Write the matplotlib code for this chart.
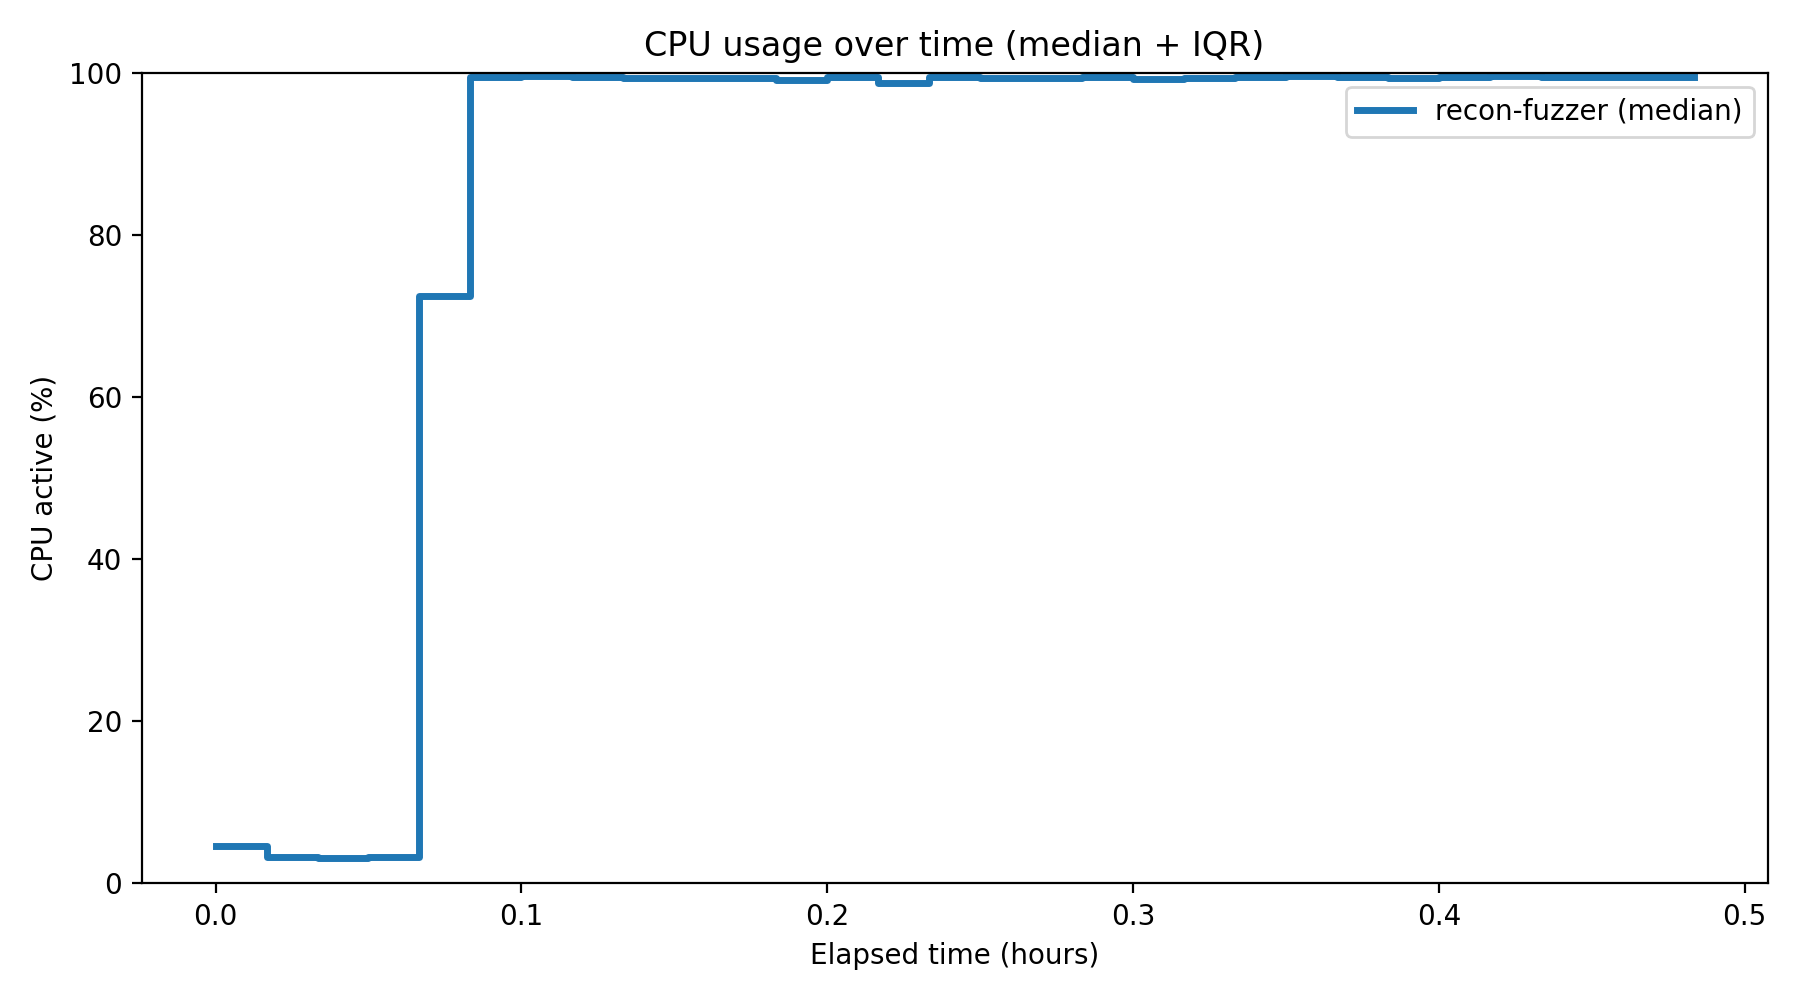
import matplotlib
matplotlib.use("Agg")
import matplotlib.pyplot as plt

# elapsed time in minutes, one sample per minute
minutes = list(range(30))

# median CPU active (%) per sample
cpu_median = [4.6, 3.2, 3.1, 3.2, 72.4,
              99.5, 99.65, 99.5, 99.4, 99.4,
              99.4, 99.15, 99.5, 98.75, 99.5,
              99.35, 99.35, 99.5, 99.25, 99.35,
              99.45, 99.6, 99.45, 99.3, 99.45,
              99.6, 99.5, 99.5, 99.5, 99.5]

hours = [m / 60.0 for m in minutes]

fig, ax = plt.subplots(figsize=(9, 5), dpi=200)
ax.step(hours, cpu_median, where='post', color='#1f77b4', linewidth=2.5,
        label='recon-fuzzer (median)')
ax.set_ylim(0, 100)
ax.set_title('CPU usage over time (median + IQR)')
ax.set_xlabel('Elapsed time (hours)')
ax.set_ylabel('CPU active (%)')
ax.legend(loc='upper right')
fig.tight_layout()
fig.savefig('out.png')
